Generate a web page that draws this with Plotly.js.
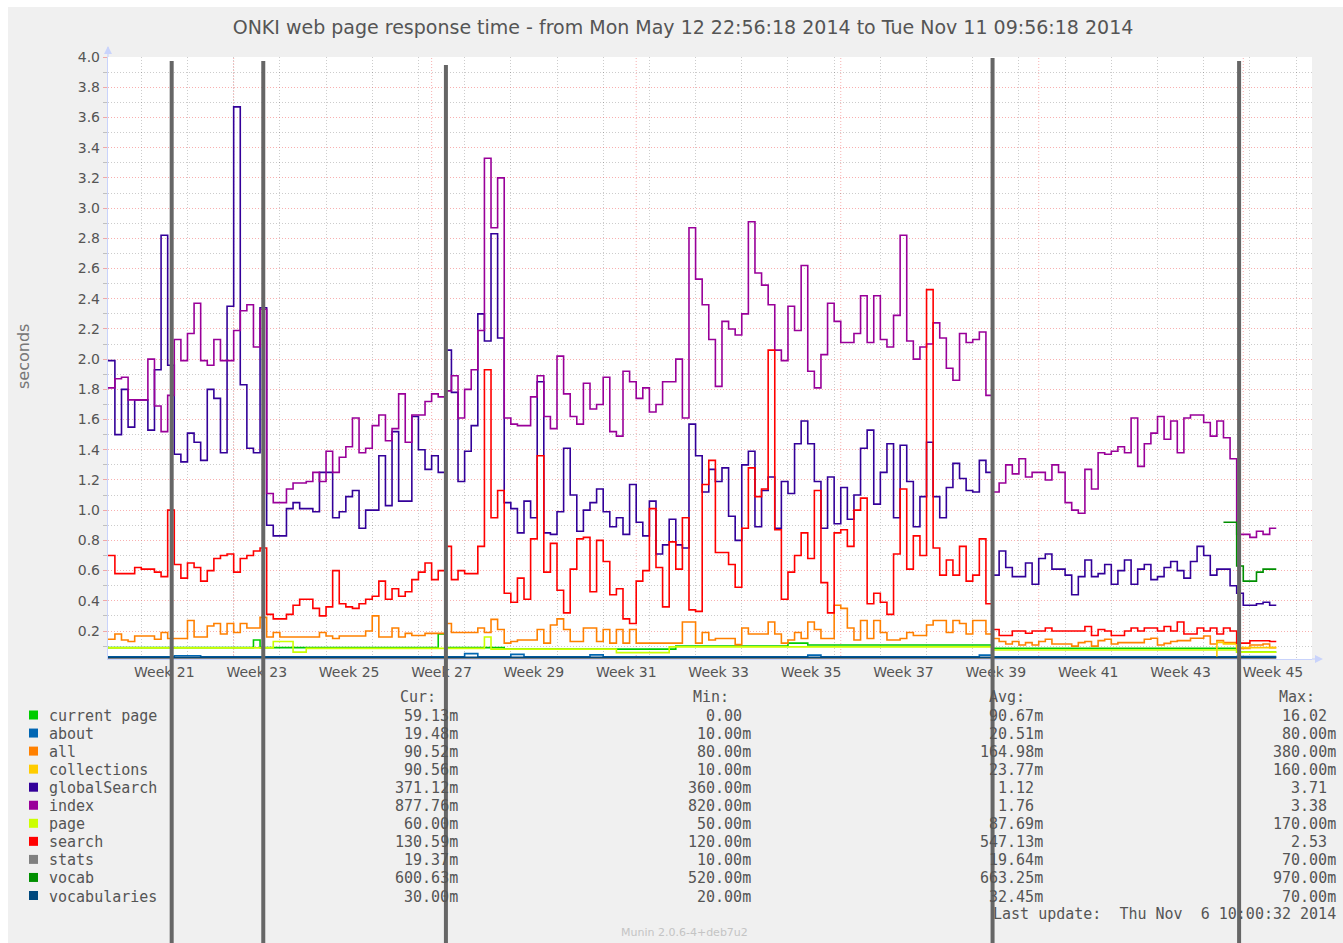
<!DOCTYPE html>
<html>
<head>
<meta charset="utf-8">
<script src="https://cdn.plot.ly/plotly-3.0.1.min.js"></script>
<style>
html,body{margin:0;padding:0;background:#ffffff;}
#chart{width:1343px;height:943px;}
</style>
</head>
<body>
<div id="chart"></div>
<script>
// ---------------- DATA ----------------
// daily values, calendar day 0 = 2014-05-12
const seriesStartDay = '2014-05-12';

const globalSearchVals = [
1.99,1.99,1.50,1.80,1.55,1.73,1.73,1.53,1.93,2.82,
1.96,1.37,1.32,1.51,1.45,1.33,1.80,1.74,1.38,2.35,
3.67,1.83,1.41,1.38,2.34,0.90,0.83,0.83,1.01,1.05,
1.01,1.01,0.99,1.25,1.25,0.95,0.99,1.09,1.13,0.88,
1.00,1.00,1.36,1.03,1.52,1.06,1.06,1.62,1.40,1.27,
1.36,1.25,2.06,1.78,1.19,1.39,1.56,2.30,2.12,2.83,
2.14,1.05,1.01,0.85,1.06,0.95,1.85,0.85,0.84,0.99,
1.41,1.10,0.86,1.00,1.05,1.14,0.99,0.89,0.95,0.84,
1.17,0.92,0.83,1.06,0.71,0.77,0.94,0.77,0.75,1.57,
1.36,1.12,1.27,1.19,1.28,0.96,0.80,1.30,1.39,0.89,
1.13,1.22,0.88,1.19,1.11,1.44,1.59,1.44,1.19,0.88,
1.22,0.91,1.15,0.94,1.10,1.41,1.53,1.04,1.25,1.44,
0.95,1.43,1.19,0.89,1.09,1.45,1.09,0.95,1.15,1.31,
1.21,1.13,1.12,1.33,1.25,0.57,0.73,0.62,0.56,0.56,
0.65,0.51,0.68,0.71,0.61,0.61,0.57,0.44,0.56,0.67,
0.56,0.58,0.64,0.51,0.60,0.67,0.51,0.61,0.64,0.54,
0.56,0.62,0.66,0.60,0.55,0.66,0.76,0.70,0.57,0.61,
0.61,0.50,0.45,0.37,0.37,0.38,0.39,0.37
];

const indexVals = [
1.81,1.81,1.87,1.88,1.73,1.73,1.73,2.00,1.69,1.52,
1.76,2.13,1.99,2.17,2.37,1.99,1.96,2.13,1.99,1.99,
2.19,2.32,2.36,2.08,2.33,1.11,1.05,1.05,1.14,1.18,
1.18,1.19,1.25,1.19,1.39,1.25,1.35,1.42,1.61,1.38,
1.41,1.56,1.63,1.46,1.54,1.77,1.45,1.63,1.63,1.72,
1.77,1.75,1.79,1.89,1.61,1.80,1.93,2.19,3.33,2.87,
3.20,1.61,1.57,1.56,1.56,1.75,1.89,1.62,1.54,2.02,
1.77,1.62,1.57,1.84,1.67,1.70,1.88,1.52,1.49,1.92,
1.85,1.74,1.81,1.65,1.70,1.85,1.85,2.00,1.61,2.87,
2.53,2.36,2.13,1.82,2.25,2.20,2.16,2.30,2.91,2.57,
2.49,2.36,2.06,1.99,2.35,2.19,2.62,1.92,1.81,2.03,
2.37,2.25,2.11,2.11,2.17,2.42,2.11,2.42,2.13,2.08,
2.29,2.82,2.12,2.00,2.08,2.10,2.24,2.14,1.94,1.86,
2.17,2.11,2.13,2.18,1.76,1.12,1.18,1.30,1.24,1.34,
1.22,1.25,1.25,1.20,1.30,1.25,1.05,1.00,0.98,1.27,
1.14,1.38,1.37,1.39,1.42,1.38,1.61,1.29,1.44,1.51,
1.62,1.47,1.59,1.38,1.61,1.63,1.63,1.58,1.49,1.59,
1.48,1.34,0.84,0.84,0.82,0.86,0.84,0.88
];

const searchVals = [
0.70,0.70,0.58,0.58,0.58,0.62,0.61,0.61,0.59,0.56,
1.00,0.64,0.55,0.65,0.62,0.53,0.60,0.68,0.70,0.71,
0.59,0.68,0.70,0.73,0.75,0.31,0.28,0.28,0.31,0.37,
0.41,0.41,0.35,0.30,0.36,0.60,0.38,0.36,0.35,0.38,
0.41,0.43,0.53,0.41,0.48,0.43,0.46,0.54,0.59,0.65,
0.54,0.60,0.76,0.54,0.60,0.58,0.58,0.76,1.93,0.95,
1.13,0.45,0.39,0.55,0.41,0.81,1.36,0.59,0.78,0.47,
0.32,0.61,0.81,0.82,0.46,0.80,0.66,0.44,0.48,0.28,
0.25,0.53,0.60,1.01,0.62,0.36,0.79,0.61,0.95,0.34,
0.33,1.17,1.33,0.72,0.72,0.64,0.49,0.88,1.28,1.09,
1.14,2.06,0.87,0.41,0.59,0.70,0.85,0.68,1.13,0.52,
0.32,0.85,0.87,0.76,1.00,1.08,0.38,0.45,0.39,0.31,
0.71,1.14,0.61,0.83,0.70,2.46,0.75,0.57,0.67,0.57,
0.76,0.53,0.57,0.81,0.38,0.21,0.17,0.17,0.20,0.20,
0.185,0.20,0.20,0.22,0.20,0.20,0.20,0.20,0.20,0.23,
0.17,0.21,0.20,0.17,0.17,0.20,0.22,0.20,0.22,0.22,
0.20,0.23,0.20,0.26,0.18,0.18,0.22,0.20,0.22,0.18,
0.22,0.20,0.12,0.12,0.135,0.135,0.135,0.13
];

const allVals = [
0.145,0.145,0.18,0.14,0.13,0.167,0.167,0.167,0.145,0.19,
0.15,0.15,0.15,0.27,0.16,0.16,0.233,0.25,0.18,0.25,
0.19,0.25,0.22,0.22,0.29,0.16,0.19,0.16,0.16,0.16,
0.16,0.16,0.16,0.19,0.167,0.15,0.167,0.167,0.167,0.167,
0.20,0.30,0.16,0.16,0.22,0.16,0.184,0.17,0.17,0.184,
0.184,0.184,0.25,0.19,0.19,0.19,0.19,0.22,0.19,0.277,
0.21,0.12,0.13,0.14,0.14,0.14,0.21,0.12,0.24,0.28,
0.21,0.13,0.13,0.22,0.22,0.13,0.21,0.12,0.21,0.12,
0.21,0.12,0.12,0.12,0.12,0.12,0.12,0.12,0.26,0.26,
0.12,0.19,0.14,0.15,0.15,0.15,0.11,0.22,0.18,0.18,
0.18,0.26,0.18,0.12,0.14,0.19,0.15,0.26,0.21,0.15,
0.15,0.37,0.35,0.22,0.14,0.27,0.15,0.27,0.19,0.14,
0.14,0.15,0.19,0.17,0.17,0.24,0.27,0.27,0.19,0.27,
0.25,0.18,0.27,0.27,0.18,0.15,0.13,0.114,0.13,0.107,
0.123,0.107,0.13,0.145,0.114,0.114,0.114,0.10,0.123,0.13,
0.10,0.136,0.145,0.114,0.123,0.123,0.123,0.123,0.145,0.152,
0.107,0.118,0.13,0.136,0.136,0.152,0.152,0.167,0.114,0.136,
0.123,0.123,0.085,0.085,0.107,0.107,0.114,0.09
];

// step segments for the small series: start day (calendar day index) and value
const curPageDays = [0,23,24,51,52,61,87,104,107,135,172];
const curPageVals = [0.09,0.14,0.09,0.18,0.09,0.08,0.10,0.12,0.107,0.085,0.06];

const pageDays = [0,26,29,31,58,59,78,86,135,172];
const pageVals = [0.088,0.13,0.06,0.085,0.16,0.08,0.057,0.095,0.074,0.06];

const aboutDays = [0,11,15,55,57,62,64,74,76,107,109,133,135,172];
const aboutVals = [0.029,0.036,0.029,0.05,0.029,0.045,0.029,0.042,0.029,0.04,0.029,0.04,0.029,0.03];

const vocabulariesDays = [0];
const vocabulariesVals = [0.026];

const statsDays = [0];
const statsVals = [0.019];

const collectionsDays = [0,62,63,79,80,107,108,169,170,172];
const collectionsVals = [0.0,0.022,0.0,0.022,0.0,0.022,0.0,0.125,0.115,0.09];

const vocabDays = [170,172,173,175,176];
const vocabVals = [0.92,0.63,0.53,0.59,0.61];

const lastDayEnd = 178; // data ends at start of this calendar day

// axis labels
const weekLabelDates = ['2014-05-21 12:00','2014-06-04 12:00','2014-06-18 12:00','2014-07-02 12:00',
  '2014-07-16 12:00','2014-07-30 12:00','2014-08-13 12:00','2014-08-27 12:00','2014-09-10 12:00',
  '2014-09-24 12:00','2014-10-08 12:00','2014-10-22 12:00','2014-11-05 12:00'];
const weekLabels = ['Week 21','Week 23','Week 25','Week 27','Week 29','Week 31','Week 33',
  'Week 35','Week 37','Week 39','Week 41','Week 43','Week 45'];
const monthStarts = ['2014-06-01','2014-07-01','2014-08-01','2014-09-01','2014-10-01','2014-11-01'];
const overlayLineTimes = ['2014-05-22 14:32','2014-06-05 11:40','2014-07-03 03:58','2014-09-24 00:08','2014-10-31 08:46'];

// legend table
const legendNames = ['current page','about','all','collections','globalSearch','index','page','search','stats','vocab','vocabularies'];
const legendColors = ['#00CC00','#0066B3','#FF8000','#FFCC00','#330099','#990099','#CCFF00','#FF0000','#808080','#008F00','#00487D'];
const curVals = ['59.13m','19.48m','90.52m','90.56m','371.12m','877.76m','60.00m','130.59m','19.37m','600.63m','30.00m'];
const minVals = ['0.00','10.00m','80.00m','10.00m','360.00m','820.00m','50.00m','120.00m','10.00m','520.00m','20.00m'];
const avgVals = ['90.67m','20.51m','164.98m','23.77m','1.12','1.76','87.69m','547.13m','19.64m','663.25m','32.45m'];
const maxVals = ['16.02','80.00m','380.00m','160.00m','3.71','3.38','170.00m','2.53','70.00m','970.00m','70.00m'];
const columnHeaders = ['Cur:','Min:','Avg:','Max:'];
const lastUpdateText = 'Last update:  Thu Nov  6 10:00:32 2014';
const versionText = 'Munin 2.0.6-4+deb7u2';
const titleText = 'ONKI web page response time - from Mon May 12 22:56:18 2014 to Tue Nov 11 09:56:18 2014';

// ---------------- HELPERS ----------------
function dayToDate(d){
  const p = seriesStartDay.split('-').map(Number);
  const dt = new Date(Date.UTC(p[0], p[1]-1, p[2] + d));
  const mm = String(dt.getUTCMonth()+1).padStart(2,'0');
  const dd = String(dt.getUTCDate()).padStart(2,'0');
  return dt.getUTCFullYear() + '-' + mm + '-' + dd;
}
function dailyTrace(vals, name, color){
  const x = vals.map((v,i)=>dayToDate(i));
  x.push(dayToDate(vals.length));
  const y = vals.slice(); y.push(vals[vals.length-1]);
  return {x:x, y:y, name:name, type:'scatter', mode:'lines',
    line:{color:color, width:1.6, shape:'hv'}, hoverinfo:'skip', showlegend:false};
}
function segTrace(days, vals, name, color){
  const x = days.map(dayToDate); x.push(dayToDate(lastDayEnd));
  const y = vals.slice(); y.push(vals[vals.length-1]);
  return {x:x, y:y, name:name, type:'scatter', mode:'lines',
    line:{color:color, width:1.6, shape:'hv'}, hoverinfo:'skip', showlegend:false};
}

const C = {};
legendNames.forEach((n,i)=>C[n]=legendColors[i]);

const traces = [
  segTrace(curPageDays, curPageVals, 'current page', C['current page']),
  segTrace(aboutDays, aboutVals, 'about', C['about']),
  dailyTrace(allVals, 'all', C['all']),
  segTrace(collectionsDays, collectionsVals, 'collections', C['collections']),
  dailyTrace(globalSearchVals, 'globalSearch', C['globalSearch']),
  dailyTrace(indexVals, 'index', C['index']),
  segTrace(pageDays, pageVals, 'page', C['page']),
  dailyTrace(searchVals, 'search', C['search']),
  segTrace(statsDays, statsVals, 'stats', C['stats']),
  segTrace(vocabDays, vocabVals, 'vocab', C['vocab']),
  segTrace(vocabulariesDays, vocabulariesVals, 'vocabularies', C['vocabularies'])
];

// ---------------- LAYOUT ----------------
const W = 1343, H = 943;
const L = 108, R = 31, T = 57, B = 284;
const PW = W - L - R, PH = H - T - B;
const px2x = px => (px - L) / PW;
const py2y = py => (H - B - py) / PH;

const textColor = '#555555';
const redGrid = 'rgba(240,80,80,0.45)';
const grayGrid = 'rgba(0,0,0,0.2)';
const axisBlue = '#c9d3fb';
const NB = '\u00a0';
const mono = 'DejaVu Sans Mono';

const shapes = [];
// white top/left strip of the picture
shapes.push({type:'rect', xref:'paper', yref:'paper', x0:px2x(0), x1:px2x(W), y0:py2y(7), y1:py2y(-5), fillcolor:'#ffffff', line:{width:0}, layer:'above'});
shapes.push({type:'rect', xref:'paper', yref:'paper', x0:px2x(-5), x1:px2x(8), y0:py2y(H+5), y1:py2y(0), fillcolor:'#ffffff', line:{width:0}, layer:'above'});
// month gridlines
monthStarts.forEach(d=>shapes.push({type:'line', xref:'x', yref:'paper', x0:d, x1:d, y0:0, y1:1,
  line:{color:redGrid, width:1, dash:'1px,2px'}, layer:'below'}));
// axis arrows
shapes.push({type:'line', xref:'paper', yref:'paper', xsizemode:'scaled', ysizemode:'pixel', x0:0, x1:0, yanchor:1, y0:0, y1:10, line:{color:axisBlue, width:1.2}});
shapes.push({type:'path', xref:'paper', yref:'paper', xsizemode:'pixel', ysizemode:'pixel', xanchor:0, yanchor:1,
  path:'M-4,3 L4,3 L0,11 Z', fillcolor:axisBlue, line:{width:0}});
shapes.push({type:'line', xref:'paper', yref:'paper', xsizemode:'pixel', ysizemode:'scaled', xanchor:1, x0:0, x1:9, y0:0, y1:0, line:{color:axisBlue, width:1.2}});
shapes.push({type:'path', xref:'paper', yref:'paper', xsizemode:'pixel', ysizemode:'pixel', xanchor:1, yanchor:0,
  path:'M3,-4 L3,4 L11,0 Z', fillcolor:axisBlue, line:{width:0}});
// dark overlay vertical lines
const overlayTopPx = [61,61,65,58,61];
overlayLineTimes.forEach((d,i)=>shapes.push({type:'line', xref:'x', yref:'paper', x0:d, x1:d,
  y0:py2y(H+2), y1:py2y(overlayTopPx[i]), line:{color:'#666666', width:4}, layer:'above'}));
// legend squares
const rowY0 = 716, rowH = 18.05;
legendColors.forEach((c,i)=>{
  const cy = rowY0 + i*rowH - 1;
  shapes.push({type:'rect', xref:'paper', yref:'paper', x0:px2x(29), x1:px2x(38), y0:py2y(cy+4.5), y1:py2y(cy-4.5),
    fillcolor:c, line:{width:0}, layer:'above'});
});

const annotations = [];
function addText(text, pxX, pxY, anchor, font){
  annotations.push({text:text, xref:'paper', yref:'paper', x:px2x(pxX), y:py2y(pxY),
    xanchor:anchor, yanchor:'middle', showarrow:false, borderpad:0, font:font});
}
const monoFont = {family:mono, size:15, color:textColor};
// column headers
const headerRight = [437, 730, 1026, 1316];
columnHeaders.forEach((h,i)=>addText(h, headerRight[i], 697, 'right', monoFont));
// rows
const colRight = [459, 752, 1044, 1337];
const pad = s => /m$/.test(s) ? s : s + NB;
legendNames.forEach((n,i)=>{
  const y = rowY0 + i*rowH;
  addText(n.replace(/ /g, NB), 48, y, 'left', monoFont);
  addText(pad(curVals[i]), colRight[0], y, 'right', monoFont);
  addText(pad(minVals[i]), colRight[1], y, 'right', monoFont);
  addText(pad(avgVals[i]), colRight[2], y, 'right', monoFont);
  addText(pad(maxVals[i]), colRight[3], y, 'right', monoFont);
});
addText(lastUpdateText.replace(/ /g, NB), 1337, 914, 'right', monoFont);
addText(versionText, 684, 932, 'center', {family:'DejaVu Sans', size:11, color:'#c4c4c4'});
addText('seconds', 23, 357, 'center', {family:'DejaVu Sans', size:16, color:'#777777'});
annotations[annotations.length-1].textangle = -90;

const layout = {
  width:W, height:H,
  margin:{l:L, r:R, t:T, b:B, pad:0},
  paper_bgcolor:'#f0f0f0', plot_bgcolor:'#ffffff',
  font:{family:'DejaVu Sans', color:textColor},
  title:{text:titleText, font:{family:'DejaVu Sans', size:19, color:textColor},
    xref:'container', x:683/W, xanchor:'center', yref:'container', y:1-27/H, yanchor:'middle'},
  xaxis:{type:'date', range:['2014-05-12 22:56:18','2014-11-11 09:56:18'],
    tickmode:'array', tickvals:weekLabelDates, ticktext:weekLabels,
    showgrid:false, zeroline:false, ticks:'', showline:true, linecolor:axisBlue, linewidth:1.2,
    tickfont:{family:'DejaVu Sans', size:14, color:textColor},
    minor:{tickmode:'linear', tick0:'2014-05-18', dtick:7*86400000, showgrid:true,
      gridcolor:grayGrid, griddash:'1px,2px', gridwidth:1, ticks:''},
    fixedrange:true},
  yaxis:{range:[0.0146, 4.0005], tickmode:'linear', tick0:0, dtick:0.2, tickformat:'.1f',
    showgrid:true, gridcolor:redGrid, griddash:'1px,2px', gridwidth:1, zeroline:false,
    ticks:'outside', ticklen:4, tickcolor:redGrid, showline:true, linecolor:axisBlue, linewidth:1.2,
    tickfont:{family:'DejaVu Sans', size:14, color:textColor},
    minor:{tickmode:'linear', tick0:0, dtick:0.1, showgrid:true, gridcolor:grayGrid,
      griddash:'1px,2px', gridwidth:1, ticks:'outside', ticklen:4, tickcolor:grayGrid},
    fixedrange:true},
  shapes:shapes,
  annotations:annotations,
  showlegend:false
};

Plotly.newPlot('chart', traces, layout, {displayModeBar:false, staticPlot:true});
</script>
</body>
</html>
